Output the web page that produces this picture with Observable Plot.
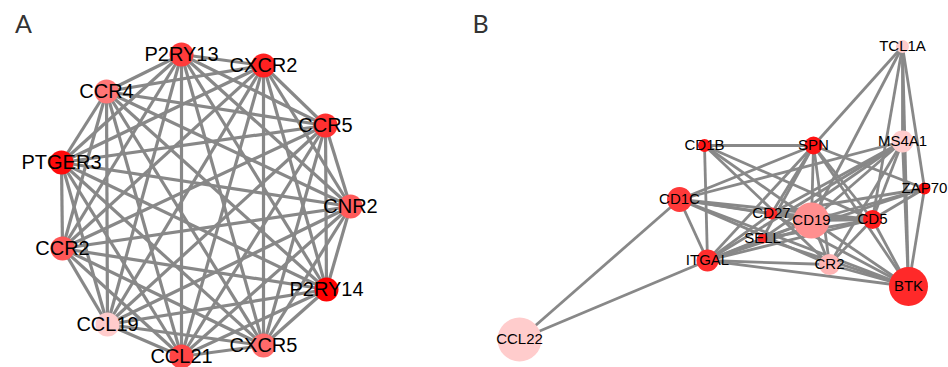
<!DOCTYPE html>
<html>
<head>
<meta charset="utf-8">
<script src="https://cdn.jsdelivr.net/npm/d3@7"></script>
<script src="https://cdn.jsdelivr.net/npm/@observablehq/plot@0.6"></script>
<style>
  html, body { margin: 0; padding: 0; background: #fff; }
  #chart { width: 948px; height: 367px; }
</style>
</head>
<body>
<div id="chart"></div>
<script>
// ---------- Panel A: nodes (layout position) ----------
const aNames = ["P2RY13", "CXCR2", "CCR5", "CNR2", "P2RY14", "CXCR5", "CCL21", "CCL19", "CCR2", "PTGER3", "CCR4"];
const aX     = [181, 263, 325, 350, 326, 263, 181, 107, 62, 61, 106];
const aY     = [54, 65, 125, 206, 289, 345, 356, 324, 248, 162, 91];
const aScore = [0.71, 0.84, 0.76, 0.56, 1.0, 0.48, 0.66, 0.0, 0.58, 0.95, 0.42]; // colour intensity
const aSize  = [12, 12, 12, 12, 12, 12, 12, 12, 12, 12, 12];

// ---------- Panel B: nodes ----------
const bNames = ["TCL1A", "MS4A1", "SPN", "CD1B", "ZAP70", "CD1C", "CD27", "CD19", "CD5", "SELL", "ITGAL", "CR2", "BTK", "CCL22"];
const bX     = [902, 902, 813, 704, 924, 679, 771, 811, 872, 762, 707, 829, 908, 519];
const bY     = [46, 141, 145, 145, 188, 199, 213, 220, 219, 238, 260, 264, 286, 339];
const bScore = [0.0, 0.0, 0.9, 0.9, 0.92, 0.72, 0.8, 0.3, 0.86, 0.82, 0.78, 0.12, 0.8, 0.0];
const bSize  = [6.5, 11, 9, 6.5, 6, 12.5, 6, 18, 9.5, 5, 11, 10.5, 19.5, 22];

// Panel B edges
const bEdges = [
  ["TCL1A","SPN"],["TCL1A","CD19"],["TCL1A","CD5"],["TCL1A","MS4A1"],["TCL1A","BTK"],["TCL1A","ZAP70"],
  ["CCL22","CD1C"],["CCL22","ITGAL"],
  ["CD1B","SPN"],["CD1B","ITGAL"],["CD1B","CD19"],["CD1B","CD5"],["CD1B","CR2"],
  ["SPN","CD1C"],["SPN","CD27"],["SPN","SELL"],["SPN","ITGAL"],["SPN","CD19"],["SPN","CD5"],["SPN","CR2"],["SPN","BTK"],["SPN","ZAP70"],
  ["MS4A1","CD1C"],["MS4A1","ITGAL"],["MS4A1","SELL"],["MS4A1","CD27"],["MS4A1","CD19"],["MS4A1","CD5"],["MS4A1","BTK"],["MS4A1","CR2"],
  ["CD1C","ITGAL"],["CD1C","CD27"],["CD1C","CD19"],["CD1C","CD5"],["CD1C","CR2"],["CD1C","BTK"],
  ["ITGAL","CD27"],["ITGAL","SELL"],["ITGAL","CD19"],["ITGAL","CD5"],["ITGAL","CR2"],["ITGAL","BTK"],["ITGAL","ZAP70"],
  ["CD27","CD19"],["CD27","CD5"],["CD27","BTK"],["CD27","ZAP70"],
  ["SELL","CD19"],["SELL","CD5"],["SELL","BTK"],
  ["CD19","CD5"],["CD19","CR2"],["CD19","BTK"],["CD19","ZAP70"],
  ["CD5","CR2"],["CD5","BTK"],["CD5","ZAP70"],
  ["CR2","BTK"],["BTK","ZAP70"]
];

// Panel labels
const panelLetters = ["A", "B"];
const panelX = [23, 480];
const panelY = [24, 24];

// ---------- build tables ----------
const aNodes = aNames.map((n, i) => ({name: n, x: aX[i], y: aY[i], score: aScore[i], size: aSize[i]}));
const bNodes = bNames.map((n, i) => ({name: n, x: bX[i], y: bY[i], score: bScore[i], size: bSize[i]}));
const aIdx = Object.fromEntries(aNodes.map(d => [d.name, d]));
const bIdx = Object.fromEntries(bNodes.map(d => [d.name, d]));

// Panel A network is fully connected: every pair of nodes is linked
const aLinks = [];
for (let i = 0; i < aNames.length; i++)
  for (let j = i + 1; j < aNames.length; j++)
    aLinks.push({s: aIdx[aNames[i]], t: aIdx[aNames[j]]});
const bLinks = bEdges.map(([s, t]) => ({s: bIdx[s], t: bIdx[t]}));

const letters = panelLetters.map((l, i) => ({l, x: panelX[i], y: panelY[i]}));

const chart = Plot.plot({
  width: 948,
  height: 367,
  margin: 0,
  style: {background: "#ffffff"},
  x: {domain: [0, 948], range: [0, 948], axis: null},
  y: {domain: [0, 367], range: [0, 367], axis: null},
  r: {type: "identity"},
  color: {type: "linear", domain: [0, 1], range: ["#ffcccc", "#ff0000"], interpolate: "rgb"},
  marks: [
    Plot.link(aLinks, {x1: d => d.s.x, y1: d => d.s.y, x2: d => d.t.x, y2: d => d.t.y,
      stroke: "#888888", strokeWidth: 3.2, strokeOpacity: 1}),
    Plot.link(bLinks, {x1: d => d.s.x, y1: d => d.s.y, x2: d => d.t.x, y2: d => d.t.y,
      stroke: "#888888", strokeWidth: 2.8, strokeOpacity: 1}),
    Plot.dot(aNodes, {x: "x", y: "y", r: "size", fill: "score", stroke: null}),
    Plot.dot(bNodes, {x: "x", y: "y", r: "size", fill: "score", stroke: null}),
    Plot.text(aNodes, {x: "x", y: "y", text: "name", fontSize: 20,
      fontFamily: "Liberation Sans, Arial, sans-serif", fill: "#000"}),
    Plot.text(bNodes, {x: "x", y: "y", text: "name", fontSize: 15,
      fontFamily: "Liberation Sans, Arial, sans-serif", fill: "#000"}),
    Plot.text(letters, {x: "x", y: "y", text: "l", fontSize: 25,
      fontFamily: "Lato, sans-serif", fill: "#333", textAnchor: "middle"})
  ]
});
document.getElementById("chart").appendChild(chart);
</script>
</body>
</html>
